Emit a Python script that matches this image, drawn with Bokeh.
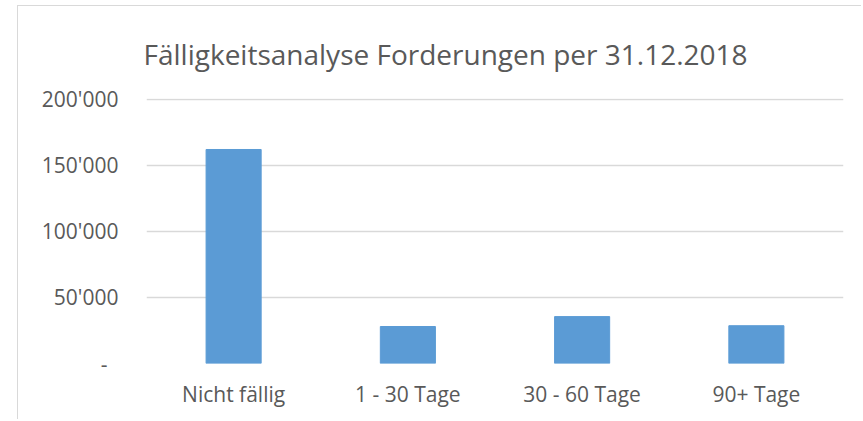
from bokeh.plotting import figure
from bokeh.models import FactorRange, Range1d, FixedTicker, ColumnDataSource
from bokeh.embed import file_html
from bokeh.resources import INLINE

# Data
categories = ["Nicht fällig", "1 - 30 Tage", "30 - 60 Tage", "90+ Tage"]
values = [162000, 28000, 35500, 28600]
y_ticks = [0, 50000, 100000, 150000, 200000]
y_tick_labels = ["-\u00a0\u00a0", "50'000", "100'000", "150'000", "200'000"]
title_text = "Fälligkeitsanalyse Forderungen per 31.12.2018"

FONT = "Open Sans"
TXT = "#595959"
GRID = "#d9d9d9"
BAR = "#5b9bd5"

source = ColumnDataSource(data=dict(cat=categories, val=values))

p = figure(
    width=844, height=414,
    x_range=FactorRange(*categories, range_padding=0),
    y_range=Range1d(0, 200600),
    output_backend="svg", toolbar_location=None, tools="",
    min_border_left=128, min_border_right=19,
    min_border_top=92, min_border_bottom=57,
)
# chart area border: left and top edges of the chart box
p.styles = {"margin-left": "17px", "margin-top": "5px",
            "border-left": "1px solid #d9d9d9", "border-top": "1px solid #d9d9d9"}
p.outline_line_color = None
p.background_fill_color = "white"
p.border_fill_color = "white"

p.vbar(x="cat", top="val", width=0.316, source=source,
       fill_color=BAR, line_color=BAR, line_width=1)

p.title.text = title_text
p.title.align = "left"
p.title.offset = -3
p.title.standoff = 52
p.title.text_font = FONT
p.title.text_font_size = "28px"
p.title.text_font_style = "normal"
p.title.text_color = TXT

p.xgrid.grid_line_color = None
p.ygrid.grid_line_color = GRID
p.ygrid.grid_line_width = 1.5

p.yaxis.ticker = FixedTicker(ticks=y_ticks)
p.yaxis.major_label_overrides = {t: l for t, l in zip(y_ticks, y_tick_labels)}
for ax in (p.xaxis[0], p.yaxis[0]):
    ax.axis_line_color = None
    ax.major_tick_line_color = None
    ax.minor_tick_line_color = None
    ax.major_tick_out = 0
    ax.major_tick_in = 0
    ax.major_label_text_font = FONT
    ax.major_label_text_font_size = "21px"
    ax.major_label_text_color = TXT
p.yaxis.major_label_standoff = 28
p.xaxis.major_label_standoff = 16

open("out.html", "w").write(file_html(p, INLINE))
